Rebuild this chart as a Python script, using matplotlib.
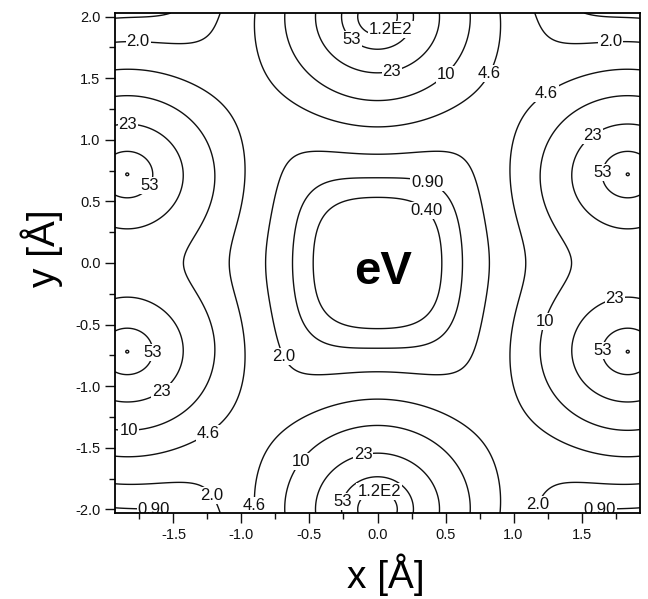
import numpy as np
import matplotlib
matplotlib.use('Agg')
import matplotlib.pyplot as plt
from matplotlib.ticker import MultipleLocator

plt.rcParams['font.family'] = ['Liberation Sans', 'DejaVu Sans']
plt.rcParams['axes.unicode_minus'] = False

# ---- data ----
# repulsive sites (positions in Å) and their strengths
atom_x = [0.0, 0.0, -1.84, -1.84, 1.84, 1.84]
atom_y = [2.0, -2.0, 0.72, -0.72, 0.72, -0.72]
atom_lnA = [4.75, 4.75, 4.6, 4.6, 4.6, 4.6]
atom_core = [2.4, 2.4, 0.25, 0.25, 0.25, 0.25]
decay_len = 0.278
cutoff_len = 1.63
core_len = 0.1

levels = [0.40, 0.90, 2.0, 4.6, 10, 23, 53, 120]
level_labels = ['0.40', '0.90', '2.0', '4.6', '10', '23', '53', '1.2E2']

x_range = [-1.93, 1.93]
y_range = [-2.03, 2.03]
x_ticks = [-1.5, -1.0, -0.5, 0.0, 0.5, 1.0, 1.5]
y_ticks = [-2.0, -1.5, -1.0, -0.5, 0.0, 0.5, 1.0, 1.5, 2.0]

label_pos = [(-1.76, 1.80), (0.10, 1.89), (-0.20, 1.81), (0.10, 1.585),
             (0.49, 1.55), (0.77, 1.57), (1.715, 1.80), (1.275, 1.325),
             (1.59, 1.025), (1.62, 0.74), (0.39, 0.73), (0.355, 0.415),
             (-1.835, 1.12), (-1.64, 0.61), (-1.64, -0.73), (-1.61, -1.01),
             (-0.785, -0.81), (-1.83, -1.33), (-1.28, -1.32), (-0.54, -1.63),
             (-0.10, -1.585), (-1.14, -1.83), (-0.86, -1.97), (-0.28, -1.93),
             (0.01, -1.89), (-1.64, -1.97), (1.11, -1.93), (1.63, -1.975),
             (1.25, -0.48), (1.73, -0.22), (1.63, -0.71)]

# ---- field ----
xs = np.linspace(x_range[0], x_range[1], 1201)
ys = np.linspace(y_range[0], y_range[1], 1261)
X, Y = np.meshgrid(xs, ys)
V = np.zeros_like(X)
for ax_, ay_, la, kc in zip(atom_x, atom_y, atom_lnA, atom_core):
    r = np.hypot(X - ax_, Y - ay_)
    V += np.exp(la - r / decay_len - (r / cutoff_len) ** 8 + kc * np.exp(-r / core_len))

# ---- figure ----
fig = plt.figure(figsize=(6.48, 5.99), dpi=100)
ax = fig.add_axes([115/648, 86/599, 525/648, 500/599])

cs = ax.contour(X, Y, V, levels=levels, colors='#111111', linewidths=1.0)
fmt = {lv: lb for lv, lb in zip(levels, level_labels)}
texts = ax.clabel(cs, levels, manual=label_pos, fmt=fmt, fontsize=12, inline=False)
for t in texts:
    t.set_rotation(0)
    t.set_bbox(dict(boxstyle='square,pad=0.06', fc='white', ec='none'))
    t.set_zorder(5)

ax.set_xlim(*x_range)
ax.set_ylim(*y_range)
ax.set_xticks(x_ticks)
ax.set_yticks(y_ticks)
ax.set_xticklabels([f'{v:.1f}' for v in x_ticks])
ax.set_yticklabels([f'{v:.1f}' for v in y_ticks])
ax.xaxis.set_minor_locator(MultipleLocator(0.25))
ax.yaxis.set_minor_locator(MultipleLocator(0.25))
ax.tick_params(which='both', direction='out', top=False, right=False,
               labelsize=10.5, width=1.0, colors='#111111')
ax.tick_params(which='major', length=7)
ax.tick_params(which='minor', length=4)
for s in ax.spines.values():
    s.set_linewidth(1.3)
    s.set_zorder(6)

ax.text(0.04, -0.07, 'eV', fontsize=34, fontweight='bold', ha='center', va='center',
        zorder=6)

fig.text(386/648, 11/599, 'x [Å]', fontsize=28, ha='center', va='baseline')
fig.text(42/648, 1 - 248/599, 'y [Å]', fontsize=28, rotation=90, ha='center', va='center')

fig.savefig('out.png', dpi=100)
